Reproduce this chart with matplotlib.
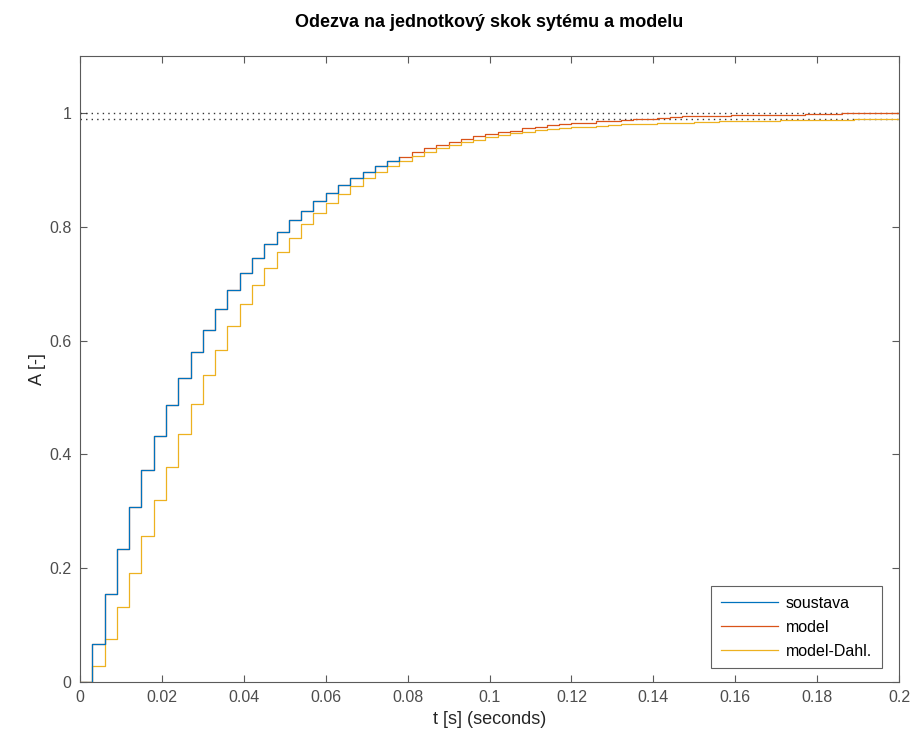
import numpy as np
import matplotlib
matplotlib.use('Agg')
import matplotlib.pyplot as plt

plt.rcParams['font.family'] = ['Liberation Sans', 'DejaVu Sans']

# sample period of the discrete responses
Ts = 0.003

# soustava (system) - visible part, later hidden under the model curve
soustava = [0, 0.066, 0.154, 0.234, 0.307, 0.373, 0.433, 0.487, 0.535, 0.579,
            0.619, 0.656, 0.689, 0.719, 0.745, 0.770, 0.791, 0.811, 0.828, 0.845,
            0.860, 0.874, 0.886, 0.897, 0.906, 0.915, 0.923]

# model
model = [0, 0.066, 0.154, 0.234, 0.307, 0.373, 0.433, 0.487, 0.535, 0.579,
         0.619, 0.656, 0.689, 0.719, 0.745, 0.770, 0.791, 0.811, 0.828, 0.845,
         0.860, 0.874, 0.886, 0.897, 0.906, 0.915, 0.923, 0.931, 0.938, 0.944,
         0.949, 0.954, 0.959, 0.963, 0.966, 0.969, 0.973, 0.975, 0.978, 0.980,
         0.982, 0.983, 0.985, 0.986, 0.987, 0.989, 0.990, 0.991, 0.993, 0.994,
         0.994, 0.995, 0.995, 0.996, 0.996, 0.996, 0.997, 0.997, 0.997, 0.998,
         0.998, 0.998, 0.999, 0.999, 0.999, 0.999, 1.000, 1.000]

# model-Dahl.
model_dahl = [0, 0.028, 0.075, 0.131, 0.192, 0.256, 0.319, 0.378, 0.436, 0.489,
              0.539, 0.584, 0.626, 0.664, 0.697, 0.728, 0.756, 0.781, 0.804, 0.824,
              0.841, 0.858, 0.872, 0.885, 0.896, 0.906, 0.916, 0.924, 0.931, 0.938,
              0.944, 0.949, 0.953, 0.958, 0.961, 0.965, 0.967, 0.970, 0.972, 0.973,
              0.975, 0.976, 0.977, 0.979, 0.980, 0.980, 0.981, 0.982, 0.983, 0.983,
              0.984, 0.984, 0.985, 0.985, 0.986, 0.986, 0.986, 0.987, 0.987, 0.987,
              0.988, 0.988, 0.988, 0.989, 0.989, 0.989, 0.989, 0.989]

steady_states = [1.0, 0.99]

labels = ['soustava', 'model', 'model-Dahl.']
colors = ['#0072BD', '#D95319', '#EDB120']

axcol = '#5a5a5a'

fig = plt.figure(figsize=(9.13, 7.40), dpi=100)
ax = fig.add_axes([0.0876, 0.0784, 0.8971, 0.8459])

series = [soustava, model, model_dahl]
zorders = [3.2, 3.0, 3.1]
for y, lab, c, z in zip(series, labels, colors, zorders):
    t = np.arange(len(y)) * Ts
    ax.step(t, y, where='post', color=c, lw=0.9, label=lab, zorder=z)

for ss in steady_states:
    ax.axhline(ss, color='#333333', ls=(0, (1, 3)), lw=1.0, zorder=2)

ax.set_xlim(0, 0.2)
ax.set_ylim(0, 1.1)
ax.set_xticks(np.arange(0, 0.201, 0.02))
ax.set_xticklabels(['0', '0.02', '0.04', '0.06', '0.08', '0.1', '0.12',
                    '0.14', '0.16', '0.18', '0.2'])
ax.set_yticks([0, 0.2, 0.4, 0.6, 0.8, 1.0])
ax.set_yticklabels(['0', '0.2', '0.4', '0.6', '0.8', '1'])

ax.tick_params(direction='in', top=True, right=True, length=5, width=0.8,
               colors=axcol, labelsize=11.5, labelcolor='#4d4d4d', pad=6)
for sp in ax.spines.values():
    sp.set_color(axcol)
    sp.set_linewidth(0.8)

ax.set_title('Odezva na jednotkový skok sytému a modelu', fontsize=13,
             fontweight='bold', color='black', pad=21)
ax.set_xlabel('t [s] (seconds)', fontsize=13, color='#262626', labelpad=4)
ax.set_ylabel('A [-]', fontsize=13, color='#262626', labelpad=2)

leg = ax.legend(loc='lower right', bbox_to_anchor=(0.979, 0.022), fontsize=11.5,
                frameon=True, fancybox=False, edgecolor='#3a3a3a',
                handlelength=3.6, handletextpad=0.5, borderpad=0.6,
                labelspacing=0.55, borderaxespad=0)
leg.get_frame().set_linewidth(0.8)

fig.savefig('out.png', dpi=100)
